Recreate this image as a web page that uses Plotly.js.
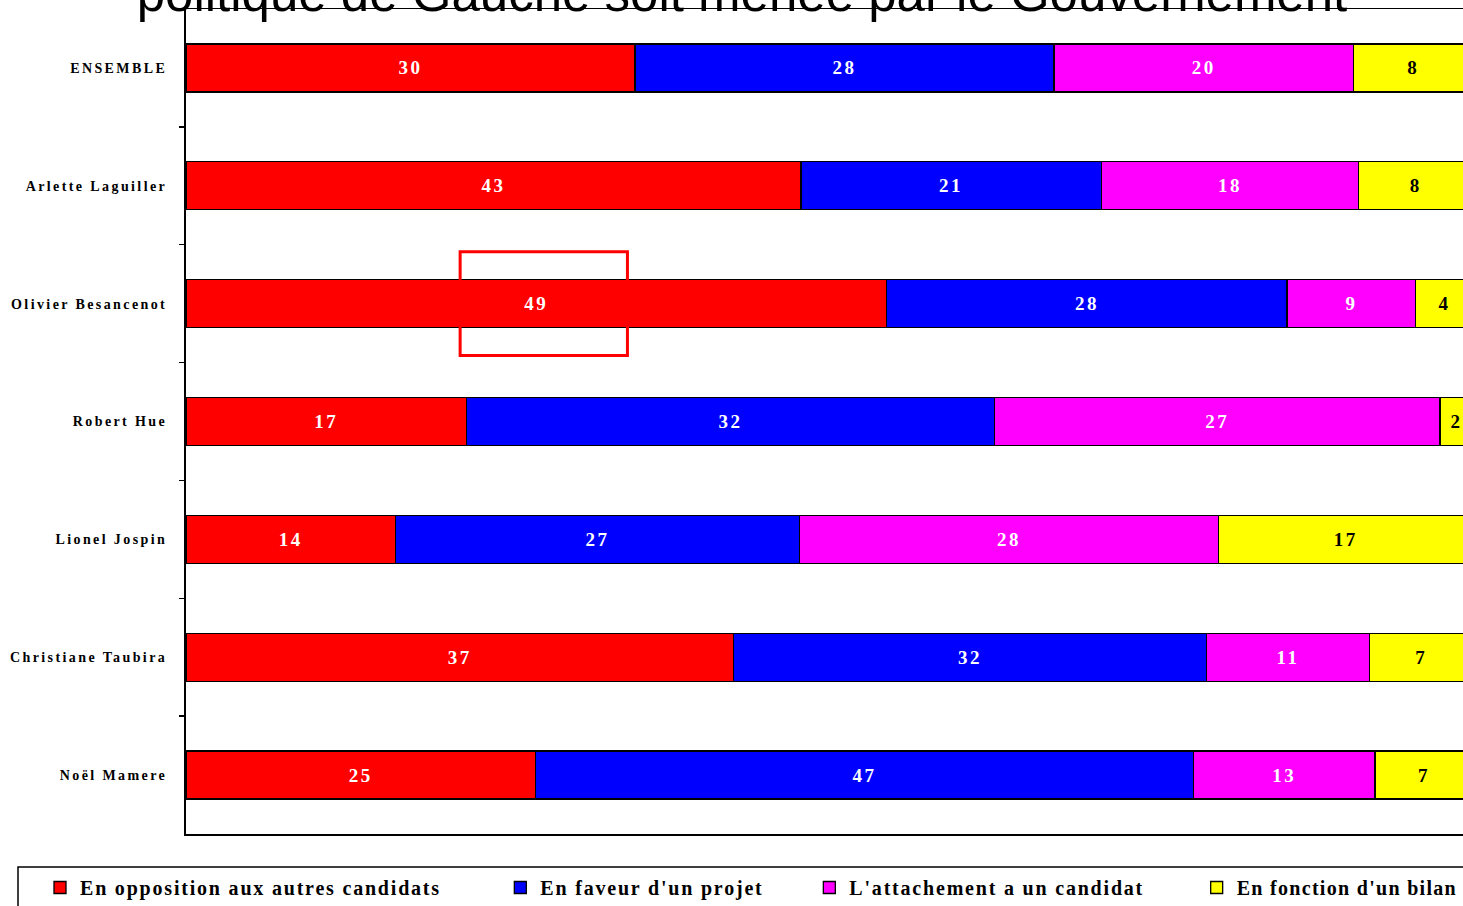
<!DOCTYPE html>
<html>
<head>
<meta charset="utf-8">
<script src="https://cdn.plot.ly/plotly-3.0.1.min.js"></script>
<style>
html, body { margin: 0; padding: 0; overflow: hidden; background: #fff; }
#chart { width: 1490px; height: 906px; }
.ytick text { letter-spacing: 2.4px; }
.bartext { letter-spacing: 2.5px; }
.legendtext { letter-spacing: 1.8px; }
.legend .traces:last-child .legendtext { letter-spacing: 1.3px; }
</style>
</head>
<body>
<div id="chart"></div>
<script>
const categories = ["ENSEMBLE", "Arlette Laguiller", "Olivier Besancenot", "Robert Hue", "Lionel Jospin", "Christiane Taubira", "Noël Mamere"];
const seriesNames = ["En opposition aux autres candidats", "En faveur d'un projet", "L'attachement a un candidat", "En fonction d'un bilan"];
const opposition = [30, 43, 49, 17, 14, 37, 25];
const projet = [28, 21, 28, 32, 27, 32, 47];
const attachement = [20, 18, 9, 27, 28, 11, 13];
const bilan = [8, 8, 4, 2, 17, 7, 7];
const titleText = "politique de Gauche soit menée par le Gouvernement";

const colors = ["#ff0000", "#0000ff", "#ff00ff", "#ffff00"];
const textColors = ["#ffffff", "#ffffff", "#ffffff", "#000000"];
const allSeries = [opposition, projet, attachement, bilan];
const padCounts = [8, 6, 7, 0];

const traces = allSeries.map((vals, i) => ({
  type: "bar",
  orientation: "h",
  name: seriesNames[i] + "\u00a0".repeat(padCounts[i]),
  y: categories,
  x: vals,
  text: vals.map(String),
  textposition: "inside",
  insidetextanchor: "middle",
  textangle: 0,
  constraintext: "none",
  textfont: { family: "Liberation Serif", size: 19, color: textColors[i], weight: "bold" },
  marker: { color: colors[i], line: { color: "#000", width: 1.3 } },
  hoverinfo: "skip"
}));

const layout = {
  width: 1490,
  height: 906,
  barmode: "stack",
  barnorm: "percent",
  bargap: 0.593,
  showlegend: true,
  paper_bgcolor: "#fff",
  plot_bgcolor: "#fff",
  margin: { l: 186, r: 17, t: 9, b: 72, autoexpand: false },
  title: {
    text: titleText,
    font: { family: "Liberation Sans", size: 51, color: "#000" },
    xref: "paper", x: 0.432, xanchor: "center",
    yref: "container", y: 0.988, yanchor: "bottom"
  },
  xaxis: {
    range: [0, 100],
    showticklabels: false,
    ticks: "",
    showgrid: false,
    zeroline: false,
    showline: true,
    mirror: true,
    linecolor: "#000",
    linewidth: 1.5,
    fixedrange: true
  },
  yaxis: {
    type: "category",
    autorange: "reversed",
    ticks: "outside",
    tickson: "boundaries",
    ticklen: 5,
    tickcolor: "#000",
    tickwidth: 1.5,
    showline: true,
    linecolor: "#000",
    linewidth: 2,
    showgrid: false,
    ticklabelstandoff: 14,
    tickfont: { family: "Liberation Serif", size: 14, color: "#000", weight: "bold" },
    fixedrange: true
  },
  legend: {
    orientation: "h",
    x: (40 - 186) / 1287, xanchor: "left",
    y: (834 - 868) / 825, yanchor: "top",
    borderwidth: 0,
    bgcolor: "rgba(0,0,0,0)",
    font: { family: "Liberation Serif", size: 20, color: "#000", weight: "bold" },
    traceorder: "normal",
    itemwidth: 30
  },
  shapes: [{
    type: "rect",
    xref: "x", yref: "y",
    x0: 21.3, x1: 34.3,
    y0: 1.56, y1: 2.44,
    line: { color: "#ff0000", width: 3 },
    fillcolor: "rgba(0,0,0,0)"
  }, {
    type: "rect",
    xref: "paper", yref: "paper",
    x0: (18 - 186) / 1287, x1: 1.05,
    y0: (834 - 867) / 825, y1: -0.15,
    line: { color: "#000", width: 1.5 },
    fillcolor: "rgba(0,0,0,0)",
    layer: "below"
  }]
};

Plotly.newPlot("chart", traces, layout, { displayModeBar: false, staticPlot: true });
</script>
</body>
</html>
